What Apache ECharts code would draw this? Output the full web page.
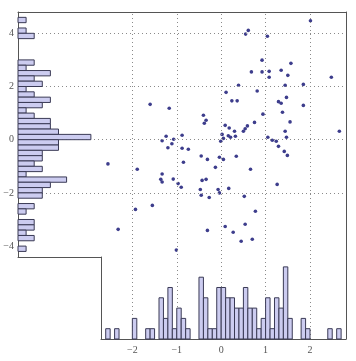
<!DOCTYPE html>
<html><head><meta charset="utf-8">
<script src="https://cdn.jsdelivr.net/npm/echarts@6/dist/echarts.min.js"></script>
<style>html,body{margin:0;padding:0;background:#fff}#c{width:356px;height:361px}</style>
</head><body><div id="c"></div>
<script>
// Scatter data
const scatterX = [2.01,0.61,0.55,1.04,0.92,1.57,0.68,0.92,1.08,1.35,1.50,1.08,2.48,0.39,1.44,1.85,0.11,0.81,1.47,0.24,0.36,1.29,1.35,1.85,1.38,0.94,0.75,1.55,0.09,0.59,0.18,0.54,-1.60,-1.17,-0.40,-0.34,-0.38,-1.24,-1.33,-1.07,-0.88,-1.11,-1.20,0.02,0.05,0.16,-0.01,-0.88,-0.74,-2.55,-1.89,-0.45,-0.31,-0.04,0.05,-0.85,-0.13,-1.33,-1.36,-1.33,-1.08,-0.43,-0.34,-0.97,-0.90,-0.47,-0.07,0.17,-0.45,-0.27,-0.04,-1.93,-1.55,-2.32,-0.31,0.09,-1.01,0.50,0.30,0.32,0.21,1.05,1.15,1.24,1.29,1.44,1.47,2.66,1.42,1.49,0.34,0.66,1.26,0.52,0.77,0.54,0.27,0.45,0.70];
const scatterY = [4.47,4.11,3.97,3.89,2.99,2.87,2.55,2.55,2.57,2.61,2.42,2.35,2.35,2.05,2.05,2.08,1.78,1.83,1.59,1.46,1.46,1.43,1.37,1.29,1.03,0.96,0.65,0.67,0.54,0.52,0.44,0.41,1.33,1.18,0.92,0.73,0.62,0.13,-0.04,0.02,0.17,-0.15,-0.30,0.20,0.05,0.15,-0.06,-0.32,-0.36,-0.91,-1.11,-0.61,-0.74,-0.66,-0.74,-0.85,-1.04,-1.29,-1.49,-1.59,-1.48,-1.53,-1.49,-1.65,-1.79,-1.87,-1.87,-1.83,-2.09,-2.17,-2.00,-2.62,-2.47,-3.37,-3.41,-3.26,-4.15,0.32,0.32,0.13,0.09,0.09,-0.02,-0.06,-0.25,0.32,0.09,0.32,-0.44,-0.59,-0.62,-1.11,-1.68,-2.13,-2.69,-3.18,-3.48,-3.82,-3.74];

// Left (y) histogram: bin lower edges (width 0.2) and counts
const yBinStart = [4.4,4.0,3.8,2.8,2.6,2.4,2.2,2.0,1.8,1.6,1.4,1.2,1.0,0.8,0.6,0.4,0.2,0.0,-0.2,-0.4,-0.6,-0.8,-1.0,-1.2,-1.4,-1.6,-1.8,-2.0,-2.2,-2.6,-2.8,-3.2,-3.4,-3.6,-3.8,-4.2];
const yCounts   = [1,1,2,2,1,4,2,3,1,2,4,3,1,2,4,4,5,9,5,5,3,3,2,3,1,6,4,3,3,2,1,2,2,1,2,1];
const yBinWidth = 0.2;

// Bottom (x) histogram: bin lower edges (width 0.1) and counts
const xBinStart = [-2.6,-2.4,-2.0,-1.7,-1.6,-1.4,-1.3,-1.2,-1.1,-1.0,-0.9,-0.8,-0.5,-0.4,-0.3,-0.2,-0.1,0.0,0.1,0.2,0.3,0.4,0.5,0.6,0.7,0.8,0.9,1.0,1.1,1.2,1.3,1.4,1.5,1.8,1.9,2.4,2.6];
const xCounts   = [1,1,2,1,1,4,2,5,1,3,2,1,6,4,1,1,5,5,4,4,3,3,5,3,3,1,2,4,1,4,3,7,2,2,1,1,1];
const xBinWidth = 0.1;

// Tick labels & grid lines
const xTickLabels = [-2,-1,0,1,2];
const yTickLabels = [-4,-2,0,2,4];
const xGridLines = [-2,-1,0,1,2];
const yGridLines = [-2,0,2,4];

const FRAME = '#555';
const BAR_FILL = '#ccccf0';
const BAR_EDGE = '#3a3a55';
const PT = '#3d3d8c';
const GRID_C = '#8a8a8a';
const fmt = v => String(v).replace('-', '\u2212');
const labelStyle = {fontFamily: 'Liberation Serif', fontSize: 10, color: '#555', formatter: fmt};

const chart = echarts.init(document.getElementById('c'), null, {renderer: 'canvas'});

function histY(params, api) {
  const y0 = api.value(0), c = api.value(1);
  const p0 = api.coord([0, y0 + yBinWidth]);
  const p1 = api.coord([c, y0]);
  return {type: 'rect', shape: {x: p0[0], y: p0[1], width: p1[0] - p0[0], height: p1[1] - p0[1]},
    style: {fill: BAR_FILL, stroke: BAR_EDGE, lineWidth: 1}};
}
function histX(params, api) {
  const x0 = api.value(0), c = api.value(1);
  const p0 = api.coord([x0, c]);
  const p1 = api.coord([x0 + xBinWidth, 0]);
  return {type: 'rect', shape: {x: p0[0], y: p0[1], width: p1[0] - p0[0], height: p1[1] - p0[1]},
    style: {fill: BAR_FILL, stroke: BAR_EDGE, lineWidth: 1}};
}

const hidden = {axisLabel: {show: false}, axisTick: {show: false}, splitLine: {show: false}};
const lineOn = {show: true, onZero: false, lineStyle: {color: FRAME, width: 1}};

chart.setOption({
  animation: false,
  backgroundColor: '#fff',
  grid: [
    {left: 18, top: 12, width: 328, height: 327},   // scatter frame
    {left: 18, top: 12, width: 83, height: 245},    // left histogram
    {left: 101, top: 257, width: 245, height: 82}   // bottom histogram
  ],
  xAxis: [
    Object.assign({type: 'value', gridIndex: 0, position: 'top', min: -4.575, max: 2.810, axisLine: lineOn}, hidden),
    Object.assign({type: 'value', gridIndex: 1, position: 'bottom', min: 0, max: 10.25, axisLine: lineOn}, hidden),
    {type: 'value', gridIndex: 2, position: 'bottom', min: -2.706, max: 2.810, axisLine: lineOn,
      axisTick: {show: false}, splitLine: {show: false},
      axisLabel: Object.assign({customValues: xTickLabels, margin: 6}, labelStyle)}
  ],
  yAxis: [
    Object.assign({type: 'value', gridIndex: 0, position: 'right', min: -7.492, max: 4.801, axisLine: lineOn}, hidden),
    {type: 'value', gridIndex: 1, position: 'left', min: -4.410, max: 4.801, axisLine: lineOn,
      axisTick: {show: false}, splitLine: {show: false},
      axisLabel: Object.assign({customValues: yTickLabels, margin: 4}, labelStyle)},
    Object.assign({type: 'value', gridIndex: 2, position: 'left', min: 0, max: 7.96, axisLine: lineOn}, hidden)
  ],
  series: [
    {
      type: 'scatter', xAxisIndex: 0, yAxisIndex: 0, z: 2,
      data: scatterX.map((x, i) => [x, scatterY[i]]),
      symbolSize: 3.6, itemStyle: {color: PT, opacity: 1},
      markLine: {
        silent: true, symbol: ['none', 'none'], label: {show: false},
        lineStyle: {color: GRID_C, width: 1, type: [1, 3]},
        emphasis: {disabled: true},
        data: xGridLines.map(v => ({xAxis: v})).concat(yGridLines.map(v => ({yAxis: v})))
      }
    },
    {type: 'custom', xAxisIndex: 1, yAxisIndex: 1, z: 5, renderItem: histY,
      data: yBinStart.map((b, i) => [b, yCounts[i]])},
    {type: 'custom', xAxisIndex: 2, yAxisIndex: 2, z: 5, renderItem: histX,
      data: xBinStart.map((b, i) => [b, xCounts[i]])}
  ]
});
</script>
</body></html>
